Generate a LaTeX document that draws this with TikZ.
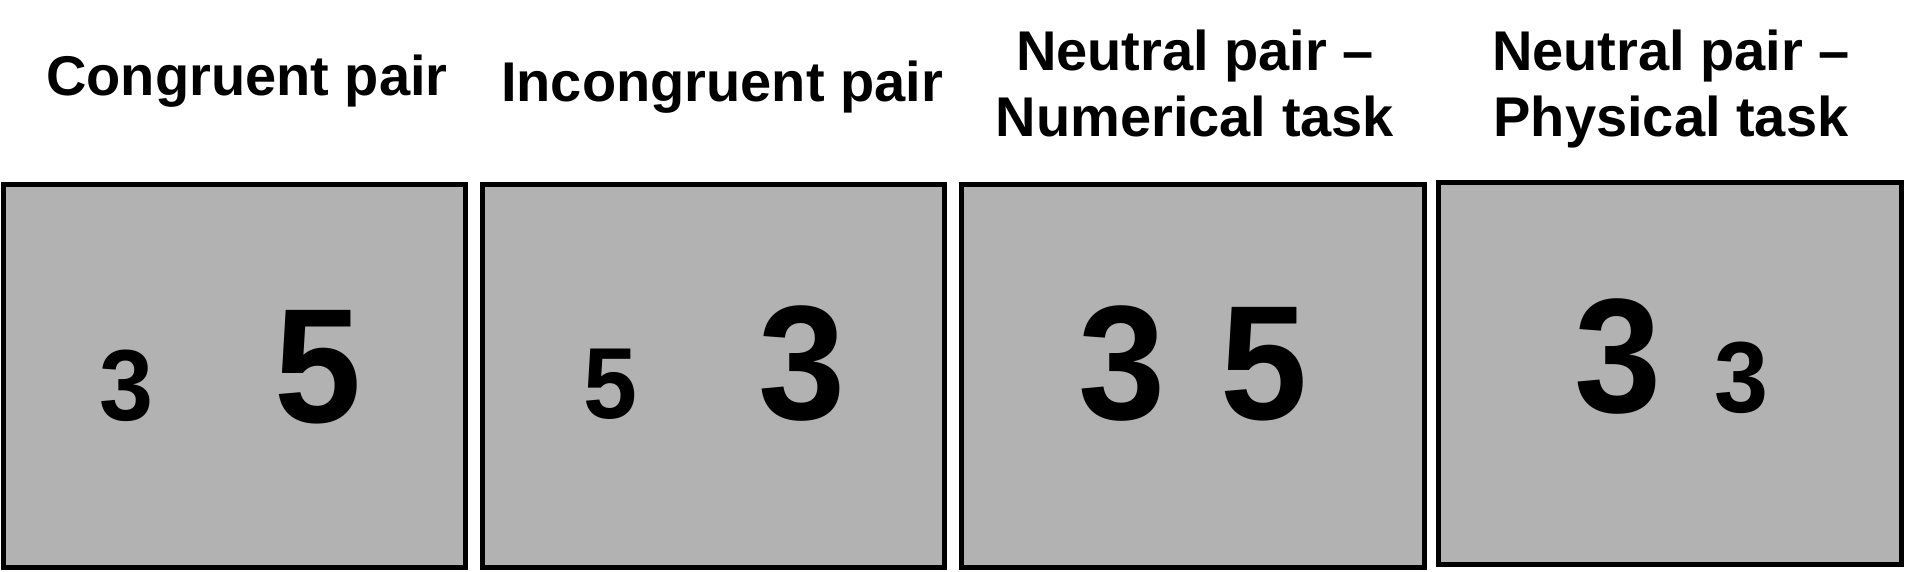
\documentclass[tikz,border=0pt]{standalone}
\usepackage{fontspec}
\setmainfont{Liberation Sans}
\definecolor{panelgray}{HTML}{B2B2B2}
\newcommand{\narrowdigit}[1]{\scalebox{0.96}[1]{#1}}
\begin{document}
\begin{tikzpicture}[x=1pt,y=-1pt,
  panel/.style={draw=black,line width=5pt,fill=panelgray,inner sep=0pt,minimum width=462pt,minimum height=383pt},
  title/.style={font=\fontsize{56}{67}\selectfont\bfseries,inner sep=0pt,anchor=base},
  bigdigit/.style={font=\fontsize{163}{163}\selectfont\bfseries,inner sep=0pt,anchor=base},
  smalldigit/.style={font=\fontsize{101}{101}\selectfont\bfseries,inner sep=0pt,anchor=base}]
\useasboundingbox[fill=white] (0,0) rectangle (1920,572);
% panels
\node[panel] (p1) at (234.5,376) {};
\node[panel] (p2) at (713.5,376) {};
\node[panel,minimum width=463pt] (p3) at (1193,376) {};
\node[panel,minimum width=463pt,minimum height=382pt] (p4) at (1670,373.5) {};
% titles
\node[title] (t1) at (247,96) {Congruent pair};
\node[title] (t2) at (722,102) {Incongruent pair};
\node[title] (t3a) at (1195,71) {Neutral pair –};
\node[title] (t3b) at (1195,137) {Numerical task};
\node[title] (t4a) at (1671,71) {Neutral pair –};
\node[title] (t4b) at (1671,137) {Physical task};
% digits
\node[smalldigit] (d1a) at (126,420) {\narrowdigit{3}};
\node[bigdigit] (d1b) at (318,422) {\narrowdigit{5}};
\node[smalldigit] (d2a) at (610,418) {\narrowdigit{5}};
\node[bigdigit] (d2b) at (802,419) {\narrowdigit{3}};
\node[bigdigit] (d3a) at (1122,419) {\narrowdigit{3}};
\node[bigdigit] (d3b) at (1264,419) {\narrowdigit{5}};
\node[bigdigit] (d4a) at (1618,412) {\narrowdigit{3}};
\node[smalldigit] (d4b) at (1741,412) {\narrowdigit{3}};
\end{tikzpicture}
\end{document}
